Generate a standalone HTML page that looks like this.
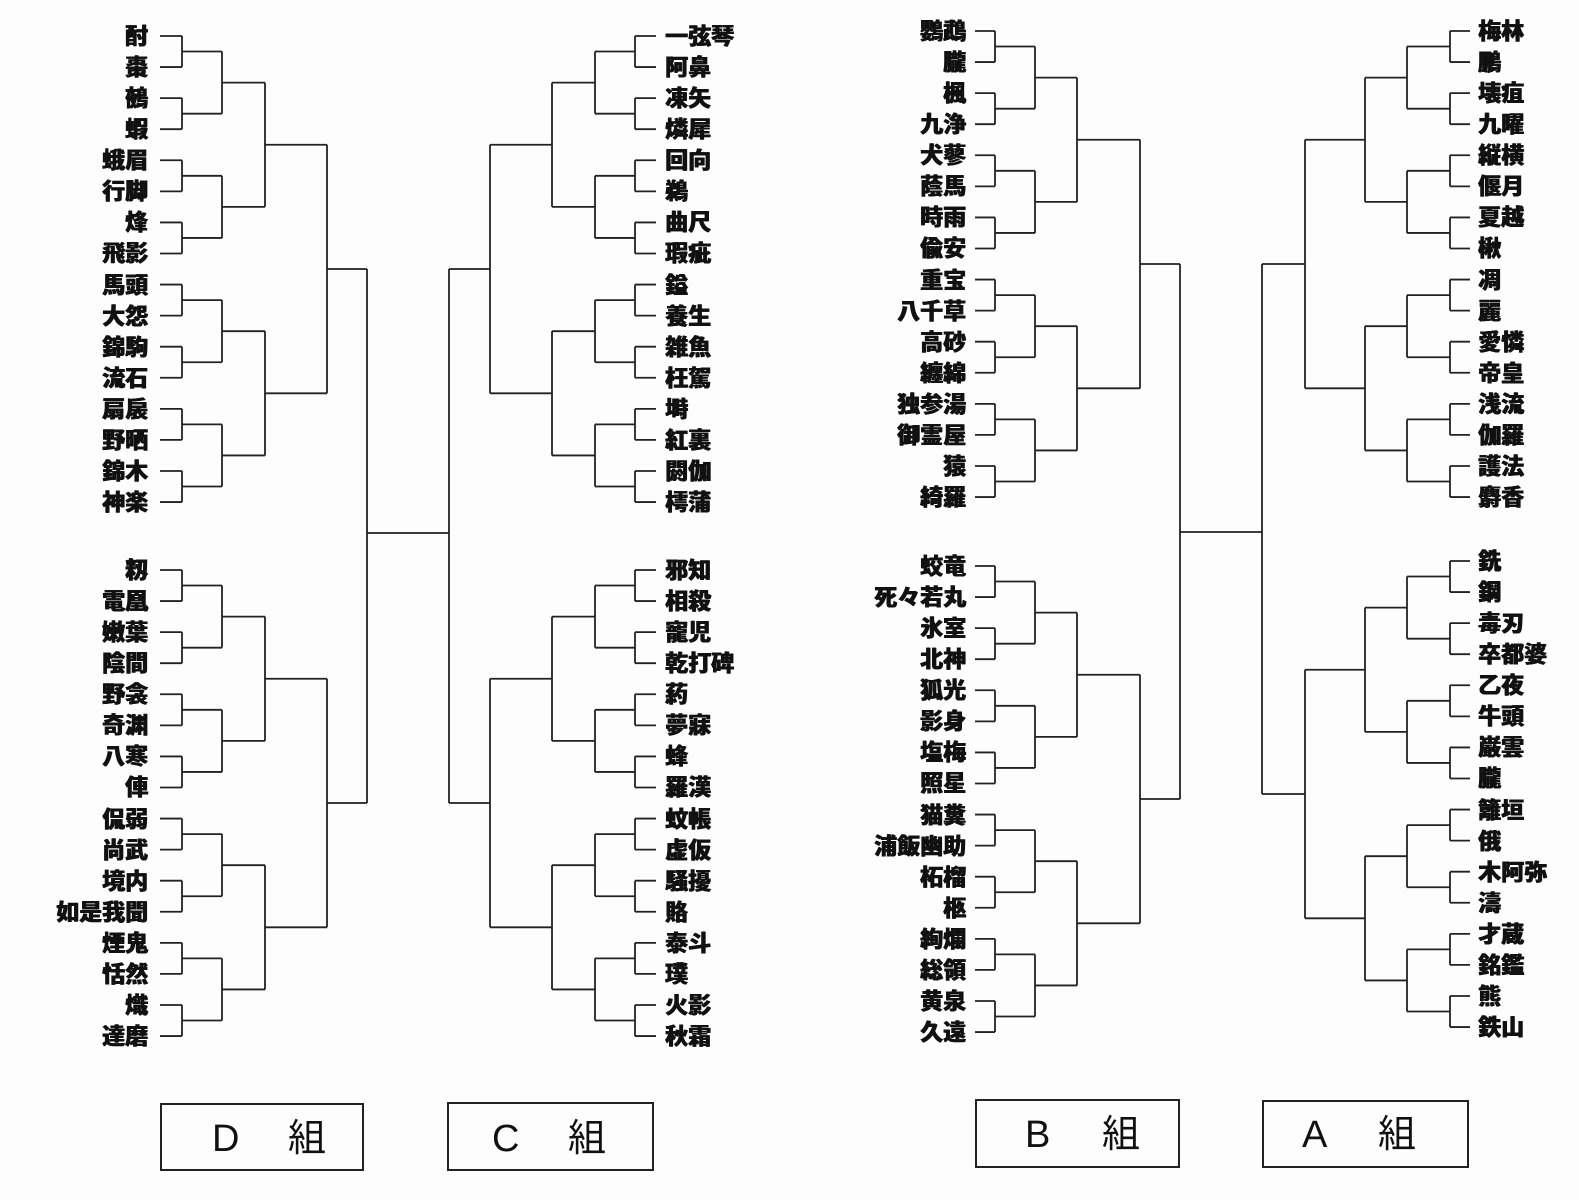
<!DOCTYPE html>
<html><head><meta charset="utf-8">
<style>
html,body{margin:0;padding:0;background:#fff;}
#wrap{position:relative;width:1579px;height:1200px;overflow:hidden;background:#fdfdfd;}
svg{position:absolute;left:0;top:0;}
.n{position:absolute;font-family:"Liberation Sans","Noto Sans CJK JP",sans-serif;font-weight:900;font-size:23px;line-height:26px;white-space:nowrap;color:#111;letter-spacing:0px;text-shadow:0.6px 0 0 #111,-0.3px 0 0 #111;}
.r{text-align:right;}
.box{position:absolute;border:2px solid #222;box-sizing:border-box;}
.lab{position:absolute;font-family:"Liberation Sans","Noto Sans CJK JP",sans-serif;font-size:38px;line-height:40px;color:#111;}
</style></head><body>
<div id="wrap">
<svg id="s" width="1579" height="1200" viewBox="0 0 1579 1200"></svg>
<div class="box" style="left:160px;top:1103px;width:204px;height:68px"></div>
<div class="lab" style="left:212px;top:1119px">D</div><div class="lab" style="left:288px;top:1119px">組</div>
<div class="box" style="left:447px;top:1102px;width:207px;height:69px"></div>
<div class="lab" style="left:492px;top:1119px">C</div><div class="lab" style="left:568px;top:1119px">組</div>
<div class="box" style="left:975px;top:1099px;width:205px;height:69px"></div>
<div class="lab" style="left:1025px;top:1115px">B</div><div class="lab" style="left:1102px;top:1115px">組</div>
<div class="box" style="left:1262px;top:1100px;width:207px;height:68px"></div>
<div class="lab" style="left:1302px;top:1115px">A</div><div class="lab" style="left:1378px;top:1115px">組</div>
</div>
<script>
var W=document.getElementById('wrap'),S=document.getElementById('s');
var P='';
function L(x1,y1,x2,y2){P+='M'+x1+' '+y1+'L'+x2+' '+y2;}
var D=[["酎","棗","鵺","蝦","蛾眉","行脚","烽","飛影","馬頭","大怨","錦駒","流石","扇扆","野晒","錦木","神楽"],
["籾","電凰","嫩葉","陰間","野衾","奇渊","八寒","俥","侃弱","尚武","境内","如是我聞","煙鬼","恬然","熾","達磨"]];
var C=[["一弦琴","阿鼻","凍矢","燐犀","回向","鵜","曲尺","瑕疵","鎰","養生","雑魚","枉駕","塒","紅裏","閼伽","樗蒲"],
["邪知","相殺","寵児","乾打碑","葯","夢寐","蜂","羅漢","蚊帳","虚仮","騒擾","賂","泰斗","璞","火影","秋霜"]];
var B=[["鸚鵡","朧","楓","九浄","犬蓼","蔭馬","時雨","偸安","重宝","八千草","高砂","纏綿","独参湯","御霊屋","猿","綺羅"],
["蛟竜","死々若丸","氷室","北神","狐光","影身","塩梅","照星","猫糞","浦飯幽助","柘榴","柩","絢爛","総領","黄泉","久遠"]];
var A=[["梅林","鵬","壊疽","九曜","縦横","偃月","夏越","楸","凋","麗","愛憐","帝皇","浅流","伽羅","護法","麝香"],
["銑","鋼","毒刃","卒都婆","乙夜","牛頭","巌雲","朧","籬垣","俄","木阿弥","濤","才蔵","銘鑑","熊","鉄山"]];
function half(names,y0,step,xs,textX,right){
  var ys=[];
  for(var i=0;i<16;i++){
    var y=y0+step*i; ys.push(y);
    var d=document.createElement('div');d.className='n'+(right?' r':'');
    d.textContent=names[i];
    if(right){d.style.right=(1579-textX)+'px';}else{d.style.left=textX+'px';}
    d.style.top=(y-13)+'px';W.appendChild(d);
    L(xs[0],y,xs[1],y);
  }
  var cur=ys;
  for(var lv=1;lv<=4;lv++){
    var nx=[];
    for(var j=0;j<cur.length;j+=2){
      var a=cur[j],b=cur[j+1],m=(a+b)/2;
      L(xs[lv],a,xs[lv],b);
      L(xs[lv],m,xs[lv+1],m);
      nx.push(m);
    }
    cur=nx;
  }
  return cur[0];
}
var sD=31.07;
var d1=half(D[0],36,sD,[160,182,222,265,327,367],148,true);
var d2=half(D[1],570,sD,[160,182,222,265,327,367],148,true);
L(367,d1,367,d2);
var c1=half(C[0],36,sD,[656,635,595,552,490,449],665,false);
var c2=half(C[1],570,sD,[656,635,595,552,490,449],665,false);
L(449,c1,449,c2);
L(367,533,449,533);
var b1=half(B[0],31,sD,[975,995,1035,1077,1140,1180],966,true);
var b2=half(B[1],566,sD,[975,995,1035,1077,1140,1180],966,true);
L(1180,b1,1180,b2);
var a1=half(A[0],31,sD,[1470,1450,1407,1365,1305,1262],1478,false);
var a2=half(A[1],561,sD,[1470,1450,1407,1365,1305,1262],1478,false);
L(1262,a1,1262,a2);
L(1180,532,1262,532);
S.innerHTML='<path d="'+P+'" stroke="#222" stroke-width="1.8" fill="none"/>';
</script>
</body></html>
